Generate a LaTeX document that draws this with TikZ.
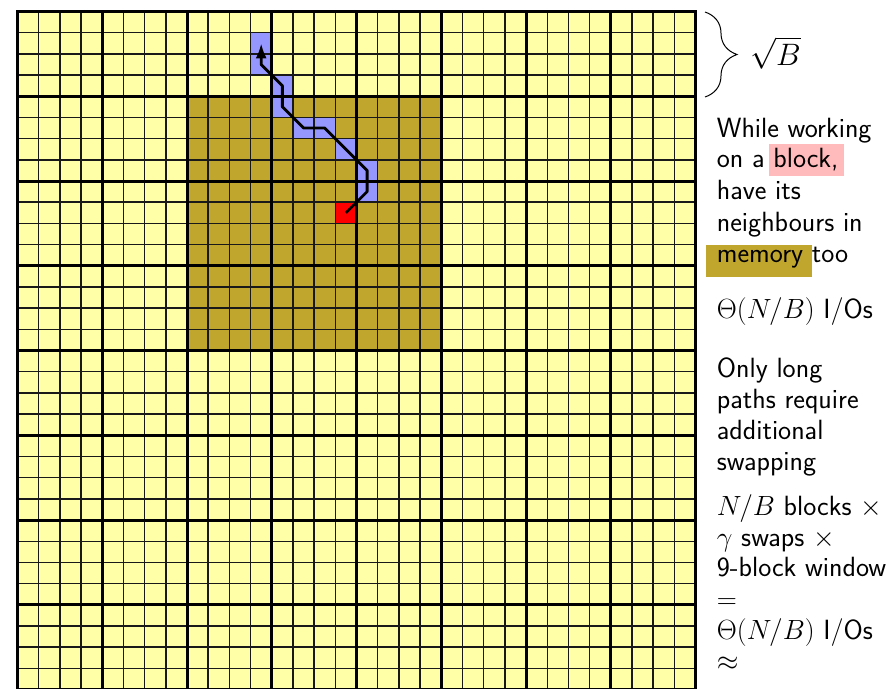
\RequirePackage{fix-cm}
\documentclass[tikz,border=0pt]{standalone}
\usetikzlibrary{decorations.pathreplacing,arrows.meta}
\definecolor{cellyellow}{RGB}{255,255,168}
\definecolor{winolive}{RGB}{192,166,44}
\definecolor{pathblue}{RGB}{150,150,255}
\definecolor{hlpink}{RGB}{255,187,187}
\begin{document}
\begin{tikzpicture}[x=1pt,y=-1pt,
  txt/.style={anchor=base west, inner sep=0pt, font=\sffamily\fontsize{27.8}{31}\selectfont, text=black},
  thinline/.style={black!90, line width=1.5pt},
  thickline/.style={black, line width=3pt, line cap=rect},
  walk/.style={black, line width=2.8pt, line join=round, -{Latex[length=15pt,width=11pt]}}]
\useasboundingbox (0,0) rectangle (890,688);
\clip (0,0) rectangle (890,688);
\begin{scope}[shift={(17.5,11.5)}, x=21.19pt, y=-21.19pt]
  \fill[cellyellow] (0,0) rectangle (32,32);
  \fill[winolive] (8,4) rectangle (20,16);
  \foreach \i/\j in {11/1,11/2,12/3,12/4,13/5,14/5,15/6,16/7,16/8}
    \fill[pathblue] (\i,\j) rectangle ++(1,1);
  \fill[red] (15,9) rectangle ++(1,1);
  \foreach \k in {0,...,32} {
    \draw[thinline] (\k,0) -- (\k,32);
    \draw[thinline] (0,\k) -- (32,\k);
  }
  \foreach \k in {0,4,...,32} {
    \draw[thickline] (\k,0) -- (\k,32);
    \draw[thickline] (0,\k) -- (32,\k);
  }
  \coordinate (p0) at (15.5,9.5);
  \coordinate (p1) at (16.5,8.5);
  \coordinate (p2) at (16.5,7.5);
  \coordinate (p3) at (14.5,5.5);
  \coordinate (p4) at (13.5,5.5);
  \coordinate (p5) at (12.5,4.5);
  \coordinate (p6) at (12.5,3.5);
  \coordinate (p7) at (11.5,2.5);
  \coordinate (p8) at (11.5,1.5);
  \draw[walk] (p0) -- (p1) -- (p2) -- (p3) -- (p4) -- (p5) -- (p6) -- (p7) -- (p8);
\end{scope}
% brace
\coordinate (bt) at (705,12);
\coordinate (bb) at (705,97);
\draw[decorate, decoration={brace, amplitude=32pt}, line width=1pt] (bt) -- (bb);
\node[anchor=base west, inner sep=0pt, font=\fontsize{31}{36}\selectfont] (sqb) at (750,65) {$\sqrt{B}$};
% highlights
\fill[hlpink] (769,144) rectangle (844,175.7);
\fill[winolive] (706,245) rectangle (811.7,276.7);
% texts
\node[txt] (t1) at (716.7,137.7) {While working};
\node[txt] (t2) at (716.7,167.7) {on a block,};
\node[txt] (t3) at (716.7,199) {have its};
\node[txt] (t4) at (716.7,231) {neighbours in};
\node[txt] (t5) at (716.7,262) {memory too};
\node[txt] (t6) at (716.7,318) {$\Theta(N/B)$ I/Os};
\node[txt] (t7) at (716.7,377.3) {Only long};
\node[txt] (t8) at (716.7,408.3) {paths require};
\node[txt] (t9) at (716.7,439.3) {additional};
\node[txt] (t10) at (716.7,470.7) {swapping};
\node[txt] (t11) at (716.7,515) {$N/B$ blocks $\times$};
\node[txt] (t12) at (716.7,546) {$\gamma$ swaps $\times$};
\node[txt] (t13) at (716.7,576.7) {9-block window};
\node[txt] (t14) at (716.7,608) {$=$};
\node[txt] (t15) at (716.7,639) {$\Theta(N/B)$ I/Os};
\node[txt] (t16) at (716.7,670) {$\approx$};
\end{tikzpicture}
\end{document}
